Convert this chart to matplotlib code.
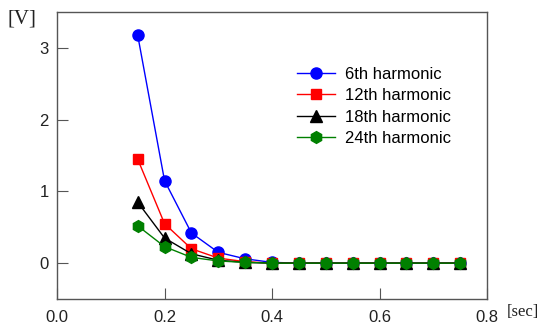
import numpy as np
import matplotlib
matplotlib.use('Agg')
import matplotlib.pyplot as plt

# time axis in seconds
t = [0.15, 0.2, 0.25, 0.3, 0.35, 0.4, 0.45, 0.5, 0.55, 0.6, 0.65, 0.7, 0.75]

# harmonic amplitudes in volts
h6 = [3.18, 1.15, 0.42, 0.15, 0.06, 0.01, 0, 0, 0, 0, 0, 0, 0]
h12 = [1.45, 0.55, 0.20, 0.07, 0.02, 0.0, 0, 0, 0, 0, 0, 0, 0]
h18 = [0.85, 0.35, 0.13, 0.04, 0.01, 0.0, 0, 0, 0, 0, 0, 0, 0]
h24 = [0.52, 0.23, 0.08, 0.03, 0.01, 0.0, 0, 0, 0, 0, 0, 0, 0]

plt.rcParams['font.family'] = 'Liberation Sans'

fig = plt.figure(figsize=(5.39, 3.24), dpi=100)
ax = fig.add_axes([0.1058, 0.0772, 0.7978, 0.8858])

ax.plot(t, h6, color='blue', marker='o', markersize=8, lw=1, label='6th harmonic')
ax.plot(t, h12, color='red', marker='s', markersize=7.5, lw=1, label='12th harmonic')
ax.plot(t, h18, color='black', marker='^', markersize=8, lw=1, label='18th harmonic')
ax.plot(t, h24, color='green', marker='h', markersize=8.5, lw=1, label='24th harmonic')

ax.set_xlim(0, 0.8)
ax.set_ylim(-0.5, 3.5)
ax.set_xticks([0.0, 0.2, 0.4, 0.6, 0.8])
ax.set_yticks([0, 1, 2, 3])
ax.tick_params(direction='in', length=8, width=0.8, color='#555555',
               labelsize=12, labelcolor='#222222')
ax.yaxis.set_tick_params(pad=6)
ax.xaxis.set_tick_params(pad=8)
for s in ax.spines.values():
    s.set_color('#555555')
    s.set_linewidth(1.0)

# unit labels
fig.text(0.014, 0.97, '[V]', family='Liberation Serif', fontsize=15,
         color='#222222', va='top')
fig.text(0.940, 0.036, '[sec]', family='Liberation Serif', fontsize=12,
         color='#222222', va='center')

ax.legend(loc='upper left', bbox_to_anchor=(0.523, 0.861), frameon=False,
          fontsize=12, handlelength=2.3, labelspacing=0.38, handletextpad=0.6)

fig.savefig('out.png', dpi=100)
